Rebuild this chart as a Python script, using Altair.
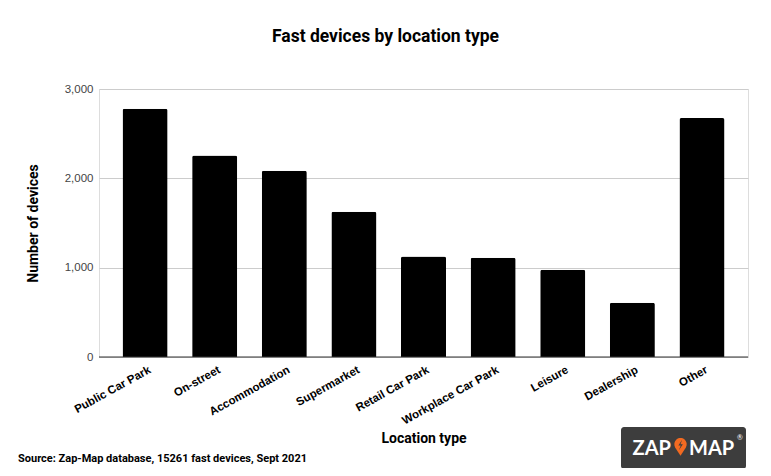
import altair as alt
import pandas as pd

categories = ["Public Car Park", "On-street", "Accommodation", "Supermarket",
              "Retail Car Park", "Workplace Car Park", "Leisure", "Dealership", "Other"]
values = [2780, 2255, 2085, 1625, 1125, 1110, 978, 608, 2675]

df = pd.DataFrame({"Location type": categories, "Number of devices": values})

W, H = 649, 268
FONT = "Roboto"

bars = alt.Chart(df).mark_bar(color="#000000", cornerRadiusTopLeft=2, cornerRadiusTopRight=2).encode(
    x=alt.X("Location type:N", sort=categories,
            scale=alt.Scale(paddingInner=0.353, paddingOuter=0.338),
            axis=alt.Axis(title="Location type", labelAngle=-29, labelAlign="right",
                          labelBaseline="middle", labelFont="Liberation Sans", labelFontSize=11.5,
                          labelFontWeight="bold", labelColor="#000000", labelPadding=12,
                          labelOffset=5,
                          ticks=False, domain=False, grid=False,
                          titleFont=FONT, titleFontSize=14, titleFontWeight="bold",
                          titleColor="#000000", titleX=W / 2, titleY=81,
                          titleBaseline="middle", titleAlign="center")),
    y=alt.Y("Number of devices:Q", scale=alt.Scale(domain=[0, 3000], nice=False),
            axis=alt.Axis(title="Number of devices", values=[0, 1000, 2000, 3000],
                          format=",d", labelFont="Liberation Sans", labelFontSize=11.5,
                          labelColor="#444444", labelPadding=6, ticks=False, domain=False,
                          gridColor="#cccccc", gridWidth=1,
                          titleFont=FONT, titleFontSize=14, titleFontWeight="bold",
                          titleColor="#000000", titleX=-66, titleY=H / 2,
                          titleAngle=-90, titleAlign="center", titleBaseline="middle")),
)

zero = alt.Chart(pd.DataFrame({"y": [0]})).mark_rule(color="#333333", strokeWidth=1).encode(
    y="y:Q"
)

source = alt.Chart(pd.DataFrame({"t": ["Source: Zap-Map database, 15261 fast devices, Sept 2021"]})).mark_text(
    align="left", baseline="middle", font=FONT, fontSize=11, fontWeight="bold", color="#000000"
).encode(text="t:N", x=alt.value(18 - 99), y=alt.value(459 - 89))

logo_bg = alt.Chart(pd.DataFrame({"a": [0]})).mark_rect(color="#3d3d3d", cornerRadius=3).encode(
    x=alt.value(621 - 99), x2=alt.value(746 - 99), y=alt.value(427 - 89), y2=alt.value(469 - 89)
)
logo_zap = alt.Chart(pd.DataFrame({"t": ["ZAP"]})).mark_text(
    align="right", baseline="middle", font="Lato", fontSize=20, fontWeight="bold", color="#ffffff"
).encode(text="t:N", x=alt.value(671 - 99), y=alt.value(449 - 89))
logo_map = alt.Chart(pd.DataFrame({"t": ["MAP"]})).mark_text(
    align="left", baseline="middle", font="Lato", fontSize=20, fontWeight="bold", color="#ffffff"
).encode(text="t:N", x=alt.value(689 - 99), y=alt.value(449 - 89))
logo_reg = alt.Chart(pd.DataFrame({"t": ["®"]})).mark_text(
    align="left", baseline="middle", font="Lato", fontSize=7, color="#ffffff"
).encode(text="t:N", x=alt.value(737 - 99), y=alt.value(438 - 89))
pin_path = "M0,1 L-0.62,0.05 A0.72,0.72 0 1 1 0.62,0.05 Z"
logo_pin = alt.Chart(pd.DataFrame({"a": [0]})).mark_point(
    shape=pin_path, filled=True, color="#f26a21", opacity=1, size=300, strokeWidth=0
).encode(x=alt.value(680.5 - 99), y=alt.value(447 - 89))
bolt_path = "M0.3,-1 L-0.4,0.1 L0.05,0.1 L-0.3,1 L0.45,-0.15 L0,-0.15 Z"
logo_bolt = alt.Chart(pd.DataFrame({"a": [0]})).mark_point(
    shape=bolt_path, filled=True, color="#3d3d3d", opacity=1, size=110, strokeWidth=0
).encode(x=alt.value(680.5 - 99), y=alt.value(445 - 89))

chart = alt.layer(bars, zero, source, logo_bg, logo_zap, logo_map, logo_reg, logo_pin, logo_bolt).properties(
    width=W, height=H,
    title=alt.TitleParams("Fast devices by location type", font=FONT, fontSize=17.5,
                          fontWeight="bold", color="#000000", anchor="middle",
                          dx=-38, offset=38),
    padding={"left": 91, "top": 81, "right": 15, "bottom": 111},
    autosize=alt.AutoSizeParams(type="none"),
).configure_view(stroke=None).configure(background="#ffffff")

chart.save("out.html", embed_options={"renderer": "svg", "actions": False})
